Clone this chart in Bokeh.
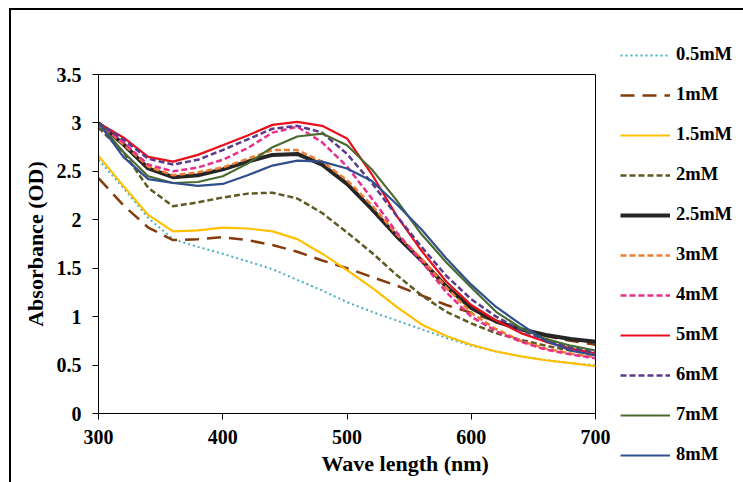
from bokeh.plotting import figure
from bokeh.layouts import row
from bokeh.models import Range1d, FixedTicker, Legend, LegendItem, Title
from bokeh.embed import file_html
from bokeh.resources import INLINE

# ---------------- data ----------------
wavelength = [300, 320, 340, 360, 380, 400, 420, 440, 460, 480, 500,
              520, 540, 560, 580, 600, 620, 640, 660, 680, 700]

a_0_5mM = [2.62, 2.33, 2.02, 1.80, 1.72, 1.65, 1.57, 1.49, 1.38, 1.27, 1.15,
           1.05, 0.96, 0.87, 0.78, 0.70, 0.64, 0.59, 0.55, 0.52, 0.50]
a_1mM = [2.43, 2.15, 1.92, 1.79, 1.80, 1.82, 1.79, 1.74, 1.67, 1.58, 1.50,
         1.41, 1.32, 1.22, 1.12, 1.04, 0.95, 0.87, 0.80, 0.75, 0.71]
a_1_5mM = [2.66, 2.35, 2.05, 1.88, 1.89, 1.92, 1.91, 1.88, 1.80, 1.65, 1.48,
           1.30, 1.10, 0.92, 0.80, 0.71, 0.64, 0.59, 0.55, 0.52, 0.49]
a_2mM = [2.95, 2.70, 2.33, 2.14, 2.18, 2.23, 2.27, 2.28, 2.22, 2.07, 1.87,
         1.66, 1.43, 1.22, 1.05, 0.93, 0.83, 0.76, 0.70, 0.65, 0.61]
a_2_5mM = [3.00, 2.78, 2.53, 2.44, 2.46, 2.52, 2.60, 2.67, 2.68, 2.57, 2.37,
           2.11, 1.83, 1.58, 1.31, 1.09, 0.95, 0.87, 0.81, 0.77, 0.74]
a_3mM = [3.00, 2.78, 2.55, 2.46, 2.49, 2.54, 2.63, 2.72, 2.72, 2.60, 2.41,
         2.15, 1.85, 1.60, 1.30, 1.04, 0.87, 0.75, 0.67, 0.62, 0.58]
a_4mM = [3.00, 2.80, 2.57, 2.50, 2.54, 2.62, 2.74, 2.90, 2.96, 2.80, 2.55,
         2.22, 1.87, 1.57, 1.25, 1.00, 0.85, 0.74, 0.66, 0.61, 0.57]
a_5mM = [3.00, 2.85, 2.65, 2.60, 2.67, 2.77, 2.87, 2.98, 3.01, 2.97, 2.84,
         2.47, 2.04, 1.68, 1.36, 1.12, 0.96, 0.83, 0.74, 0.67, 0.62]
a_6mM = [3.00, 2.83, 2.63, 2.57, 2.62, 2.72, 2.83, 2.94, 2.97, 2.90, 2.68,
         2.38, 2.04, 1.72, 1.42, 1.18, 1.00, 0.86, 0.76, 0.68, 0.63]
a_7mM = [3.00, 2.70, 2.45, 2.38, 2.39, 2.45, 2.58, 2.75, 2.86, 2.89, 2.77,
         2.52, 2.20, 1.85, 1.56, 1.30, 1.05, 0.88, 0.77, 0.70, 0.65]
a_8mM = [3.00, 2.65, 2.42, 2.38, 2.35, 2.37, 2.46, 2.56, 2.61, 2.60, 2.53,
         2.40, 2.16, 1.90, 1.60, 1.33, 1.10, 0.92, 0.75, 0.65, 0.60]

series_labels = ["0.5mM", "1mM", "1.5mM", "2mM", "2.5mM", "3mM",
                 "4mM", "5mM", "6mM", "7mM", "8mM"]
series_values = [a_0_5mM, a_1mM, a_1_5mM, a_2mM, a_2_5mM, a_3mM,
                 a_4mM, a_5mM, a_6mM, a_7mM, a_8mM]

x_ticks = [300, 400, 500, 600, 700]
y_ticks = [0, 0.5, 1, 1.5, 2, 2.5, 3, 3.5]
y_tick_labels = ["0", "0.5", "1", "1.5", "2", "2.5", "3", "3.5"]

# ---------------- styles ----------------
colors = ["#4BACC6", "#843C0C", "#FFC000", "#5F5A22", "#262626", "#ED7D31",
          "#E8308A", "#E8101A", "#5B3A8C", "#4A6B2F", "#2F4F8F"]
dashes = ["2 3", "14 8", "solid", "6 3", "solid", "6 3",
          "6 3", "solid", "6 3", "solid", "solid"]
widths = [2, 2.5, 2.2, 2.5, 4, 2.5, 2.5, 2.2, 2.5, 2.2, 2.2]

FONT = "Liberation Serif"

# main plot
p = figure(width=606, height=472, output_backend="svg", toolbar_location=None,
           x_range=Range1d(300, 700), y_range=Range1d(0, 3.5),
           min_border_left=87, min_border_top=64, min_border_right=22,
           min_border_bottom=69)
p.grid.visible = False
p.outline_line_color = "black"
p.outline_line_width = 1
p.frame_align = False

# legend panel (its lines lie outside its own ranges; only the legend shows)
q = figure(width=126, height=472, output_backend="svg", toolbar_location=None,
           x_range=Range1d(0, 1), y_range=Range1d(0, 1),
           min_border_left=3, min_border_right=0,
           min_border_top=34, min_border_bottom=0)
q.axis.visible = False
q.grid.visible = False
q.outline_line_color = None
q.frame_align = False

items = []
for lab, vals, c, d, w in zip(series_labels, series_values, colors, dashes, widths):
    p.line(wavelength, vals, line_color=c, line_dash=d, line_width=w)
    r = q.line(wavelength, vals, line_color=c, line_dash=d, line_width=w)
    items.append(LegendItem(label=lab, renderers=[r]))

for ax in (p.xaxis[0], p.yaxis[0]):
    ax.axis_line_color = "black"
    ax.axis_line_width = 1
    ax.major_tick_out = 6
    ax.major_tick_in = 0
    ax.minor_tick_out = 0
    ax.minor_tick_in = 0
    ax.major_tick_line_color = "black"
    ax.major_label_text_font = FONT
    ax.major_label_text_font_style = "bold"
    ax.major_label_text_font_size = "20px"
    ax.major_label_text_color = "black"
    ax.axis_label_text_font = FONT
    ax.axis_label_text_font_style = "bold"
    ax.axis_label_text_font_size = "22px"
    ax.axis_label_text_color = "black"

p.xaxis[0].ticker = FixedTicker(ticks=x_ticks)
p.xaxis[0].major_label_standoff = 10
p.yaxis[0].ticker = FixedTicker(ticks=y_ticks)
p.yaxis[0].major_label_overrides = {t: s for t, s in zip(y_ticks, y_tick_labels)}
p.yaxis[0].major_label_standoff = 11
p.yaxis[0].axis_label = "Absorbance (OD)"
p.yaxis[0].axis_label_standoff = 6

xtitle = Title(text="Wave length (nm)", align="left", offset=223, standoff=4,
               text_font=FONT, text_font_style="bold", text_font_size="22px",
               text_color="black")
p.add_layout(xtitle, "below")

legend = Legend(items=items, location="top_left", orientation="vertical",
                glyph_width=50, glyph_height=20, label_height=20, spacing=19,
                label_standoff=6, padding=0, margin=0,
                border_line_color=None, background_fill_alpha=0,
                label_text_font=FONT, label_text_font_style="bold",
                label_text_font_size="18.5px", label_text_color="black")
q.add_layout(legend)

layout = row(p, q, styles={"margin-left": "9px", "margin-top": "8px",
                           "border-left": "2px solid black",
                           "border-top": "2px solid black"})

open("out.html", "w").write(file_html(layout, INLINE))
